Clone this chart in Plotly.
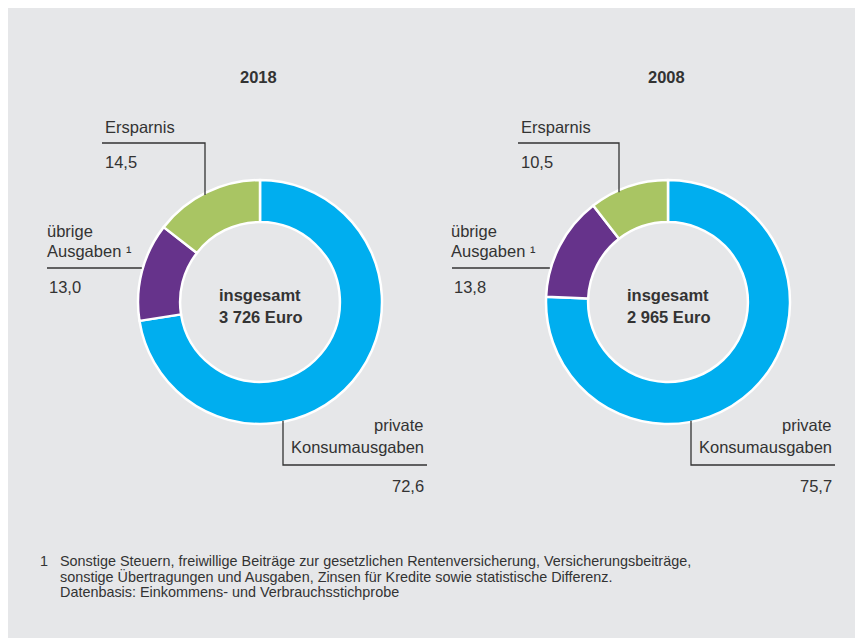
import plotly.graph_objects as go

# ── data ────────────────────────────────────────
categories = ["private Konsumausgaben", "übrige Ausgaben", "Ersparnis"]
years = ["2018", "2008"]
shares_2018 = [72.6, 13.0, 14.5]
shares_2008 = [75.7, 13.8, 10.5]
totals = ["3 726 Euro", "2 965 Euro"]
colors = ["#00AEEF", "#66338B", "#A9C563"]

footnote = [
    "Sonstige Steuern, freiwillige Beiträge zur gesetzlichen Rentenversicherung, Versicherungsbeiträge,",
    "sonstige Übertragungen und Ausgaben, Zinsen für Kredite sowie statistische Differenz.",
    "Datenbasis: Einkommens- und Verbrauchsstichprobe",
]

# ── layout helpers (screen pixel -> paper; page body adds an 8px offset) ──
W, H = 863, 638
OFF = 8
FONT = "Liberation Sans, Arial, Helvetica, sans-serif"
TXT = "#333333"
SIZE = 16.5

# per-donut placement: centre, Ersparnis text x, its vertical leader x,
# übrige text x, its leader start x, right edge of the Konsum label, its leader x
panels = [
    dict(cx=260, cy=302, ex=103, vx=205, lx=45, ll=47, rx=426, kx=283),
    dict(cx=668, cy=302, ex=519, vx=619, lx=449, ll=452, rx=834, kx=691),
]
R = 122


def px(x):
    return (x - OFF) / W


def py(y):
    return 1 - (y - OFF) / H


def fmt(v):
    return f"{v:.1f}".replace(".", ",")


fig = go.Figure()
annotations = []
shapes = []


def text(x, y, s, anchor="left", size=SIZE, bold=False):
    annotations.append(dict(
        x=px(x), y=py(y), xref="paper", yref="paper", showarrow=False,
        text=f"<b>{s}</b>" if bold else s, xanchor=anchor, yanchor="middle",
        font=dict(family=FONT, size=size, color=TXT), align=anchor,
    ))


def line(points):
    path = "M " + " L ".join(f"{px(x)},{py(y)}" for x, y in points)
    shapes.append(dict(type="path", xref="paper", yref="paper", path=path,
                       line=dict(color=TXT, width=1.3)))


for p, year, vals, total in zip(panels, years, [shares_2018, shares_2008], totals):
    cx, cy = p["cx"], p["cy"]
    fig.add_trace(go.Pie(
        labels=categories, values=vals, hole=0.655, sort=False, direction="clockwise",
        rotation=0, marker=dict(colors=colors, line=dict(color="white", width=2.5)),
        textinfo="none", hovertemplate="%{label}: %{value:.1f} %<extra>" + year + "</extra>",
        domain=dict(x=[px(cx - R), px(cx + R)], y=[py(cy + R), py(cy - R)]),
        showlegend=False,
    ))
    text(cx - 2, 77, year, anchor="center", bold=True)
    text(cx, 295, "insgesamt", anchor="center", bold=True)
    text(cx, 317, total, anchor="center", bold=True)

    # Ersparnis
    text(p["ex"], 127, categories[2])
    text(p["ex"], 162, fmt(vals[2]))
    vx = p["vx"]
    line([(p["ex"] - 1, 143), (vx, 143),
          (vx, cy - (R * R - (cx - vx) ** 2) ** 0.5 + 2)])

    # übrige Ausgaben
    text(p["lx"], 231, "übrige")
    text(p["lx"], 251, "Ausgaben ¹")
    text(p["ll"], 287, fmt(vals[1]))
    line([(p["ll"], 268), (cx - (R * R - (268 - cy) ** 2) ** 0.5 - 1, 268)])

    # private Konsumausgaben
    rx, kx = p["rx"], p["kx"]
    text(rx, 425, "private", anchor="right")
    text(rx, 447, "Konsumausgaben", anchor="right")
    text(rx, 486, fmt(vals[0]), anchor="right")
    line([(kx, cy + (R * R - (kx - cx) ** 2) ** 0.5 - 1), (kx, 465), (rx + 1, 465)])

# footnote
text(38, 561, "1", size=14.4)
for i, s in enumerate(footnote):
    text(58, 561 + i * 15.5, s, size=14.4)

fig.update_layout(
    width=W, height=H,
    margin=dict(l=0, r=0, t=0, b=0),
    paper_bgcolor="#E6E7E9", plot_bgcolor="#E6E7E9",
    font=dict(family=FONT, color=TXT),
    shapes=shapes, annotations=annotations,
)

fig.write_html("out.html", config={"displaylogo": False})
